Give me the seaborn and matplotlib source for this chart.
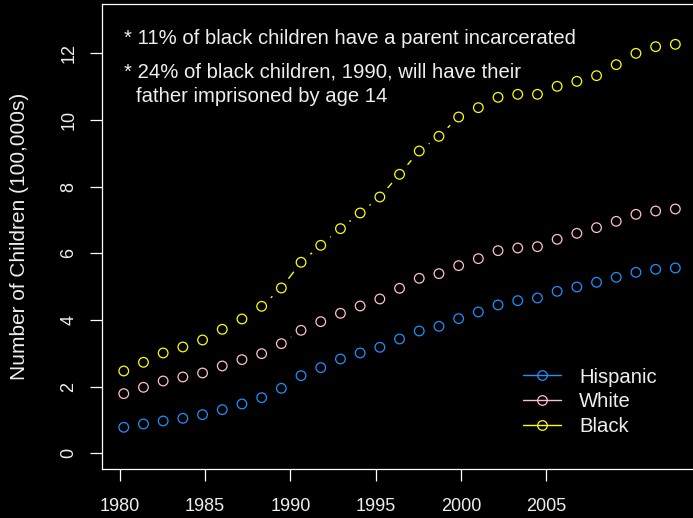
import numpy as np
import pandas as pd
import matplotlib
matplotlib.use("Agg")
import matplotlib.pyplot as plt
from matplotlib.lines import Line2D
import seaborn as sns

# Children with an incarcerated parent, in units of 100,000, one value per period
hispanic = [0.78, 0.88, 0.97, 1.05, 1.16, 1.31, 1.48, 1.67, 1.95, 2.33, 2.57, 2.83,
            3.01, 3.18, 3.43, 3.67, 3.81, 4.04, 4.24, 4.45, 4.58, 4.66, 4.86, 4.99,
            5.13, 5.28, 5.43, 5.52, 5.56]
white = [1.79, 1.98, 2.17, 2.29, 2.41, 2.62, 2.81, 2.99, 3.29, 3.69, 3.95, 4.20,
         4.42, 4.63, 4.95, 5.25, 5.39, 5.63, 5.84, 6.08, 6.16, 6.20, 6.42, 6.60,
         6.77, 6.96, 7.17, 7.27, 7.33]
black = [2.47, 2.73, 3.01, 3.19, 3.40, 3.72, 4.03, 4.41, 4.96, 5.73, 6.24, 6.74,
         7.21, 7.69, 8.37, 9.07, 9.51, 10.09, 10.37, 10.68, 10.77, 10.77, 11.01,
         11.16, 11.33, 11.66, 12.00, 12.20, 12.27]

groups = ["Hispanic", "White", "Black"]
colors = {"Hispanic": "#1E90FF", "White": "#FFC0CB", "Black": "#FFFF00"}
tick_years = [1980, 1985, 1990, 1995, 2000, 2005]
y_ticks = [0, 2, 4, 6, 8, 10, 12]
notes = ["* 11% of black children have a parent incarcerated",
         "* 24% of black children, 1990, will have their",
         "father imprisoned by age 14"]

series = {"Hispanic": hispanic, "White": white, "Black": black}
df = pd.concat(
    [pd.DataFrame({"period": np.arange(len(v)), "children": v, "group": g})
     for g, v in series.items()],
    ignore_index=True,
)

sns.set_theme(style="dark")
plt.rcParams["font.family"] = ["Liberation Sans", "DejaVu Sans"]

W, H = 693, 518
fig = plt.figure(figsize=(W / 100, H / 100), dpi=100, facecolor="black")
ax = fig.add_axes([101.7 / W, 48.7 / H, 595.7 / W, 465.3 / H])
ax.set_facecolor("black")

# connecting lines, then black discs to open a gap around each point
sns.lineplot(data=df, x="period", y="children", hue="group", palette=colors,
             hue_order=groups, estimator=None, sort=False, linewidth=1.0,
             legend=False, ax=ax, zorder=1)
sns.scatterplot(data=df, x="period", y="children", color="black", s=300,
                linewidth=0, legend=False, ax=ax, zorder=2)
for g in groups:
    sns.scatterplot(data=df[df["group"] == g], x="period", y="children",
                    marker="o", s=48, facecolor="none", edgecolor=colors[g],
                    linewidth=0.9, legend=False, ax=ax, zorder=3)

ax.set_xlim(-1.12, 29.12)
ax.set_ylim(-0.48, 13.48)

# year labels along the period axis
period_per_year = 1 / 1.1543
ax.set_xticks([(y - 1980.234) * period_per_year for y in tick_years])
ax.set_xticklabels([str(y) for y in tick_years], fontsize=13)
ax.set_yticks(y_ticks)
ax.set_yticklabels([str(v) for v in y_ticks], rotation=90, va="center",
                   fontsize=13)

ax.grid(False)
for side in ["left", "bottom", "top"]:
    ax.spines[side].set_visible(True)
    ax.spines[side].set_color("white")
    ax.spines[side].set_linewidth(0.9)
ax.spines["right"].set_visible(False)
ax.tick_params(axis="both", colors="white", labelcolor="#EEEEEE", length=8.5,
               width=0.9, direction="out")
ax.tick_params(axis="x", bottom=True, top=False, pad=12)
ax.tick_params(axis="y", left=True, right=False, pad=9)

ax.set_xlabel("")
ax.set_ylabel("Number of Children (100,000s)", color="#EEEEEE", fontsize=15)
ax.yaxis.set_label_coords(-0.1213, 0.5)

note_kw = dict(color="#EEEEEE", fontsize=14.6, va="baseline", ha="left", zorder=5)
fig.text(124 / W, 1 - 44 / H, notes[0], **note_kw)
fig.text(124 / W, 1 - 77.3 / H, notes[1], **note_kw)
fig.text(136 / W, 1 - 101.7 / H, notes[2], **note_kw)

handles = [Line2D([0], [0], color=colors[g], linewidth=1.0, marker="o",
                  markersize=6.9, markerfacecolor="none",
                  markeredgecolor=colors[g], markeredgewidth=0.9)
           for g in groups]
leg = ax.legend(handles, groups, loc="center left",
                bbox_to_anchor=(523 / W, 1 - 401.7 / H),
                bbox_transform=fig.transFigure, frameon=False, fontsize=14.6,
                handlelength=1.88, handletextpad=0.89, labelspacing=0.28,
                borderpad=0, borderaxespad=0)
for t in leg.get_texts():
    t.set_color("#EEEEEE")

fig.savefig("out.png", dpi=100, facecolor="black")
